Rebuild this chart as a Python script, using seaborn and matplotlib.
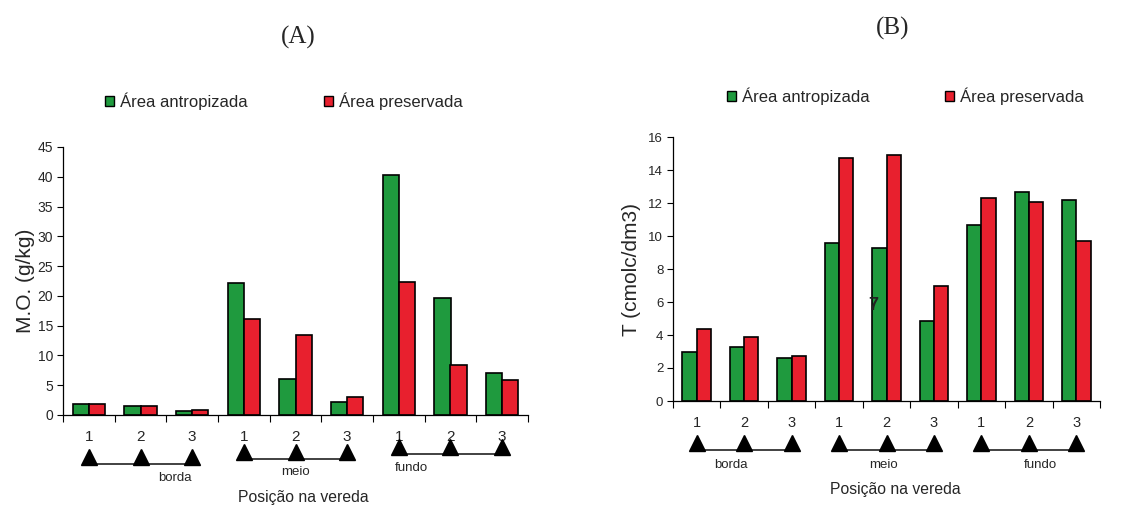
import numpy as np
import pandas as pd
import matplotlib
matplotlib.use("Agg")
import matplotlib.pyplot as plt
import matplotlib.transforms as mtransforms
from matplotlib.patches import Patch
import seaborn as sns

# ---------------- data ----------------
positions = ["borda 1", "borda 2", "borda 3",
             "meio 1", "meio 2", "meio 3",
             "fundo 1", "fundo 2", "fundo 3"]
tick_labels = ["1", "2", "3", "1", "2", "3", "1", "2", "3"]
groups = ["borda", "meio", "fundo"]
series_names = ["Área antropizada", "Área preservada"]

mo_antropizada = [1.9, 1.5, 0.7, 22.1, 6.1, 2.1, 40.3, 19.6, 7.0]
mo_preservada = [1.9, 1.5, 0.9, 16.1, 13.4, 3.1, 22.4, 8.4, 5.9]

t_antropizada = [3.0, 3.25, 2.63, 9.6, 9.27, 4.84, 10.65, 12.65, 12.17]
t_preservada = [4.35, 3.85, 2.73, 14.7, 14.9, 6.94, 12.3, 12.08, 9.7]

# ---------------- style ----------------
GREEN = "#1f9a3e"
RED = "#e8202e"
sns.set_theme(style="white")
plt.rcParams["font.family"] = ["Liberation Sans", "DejaVu Sans"]

W, H = 1137, 508
fig = plt.figure(figsize=(W / 100, H / 100), dpi=100)


def make_df(a, p):
    return pd.DataFrame({
        "pos": positions * 2,
        "val": list(a) + list(p),
        "area": [series_names[0]] * len(positions) + [series_names[1]] * len(positions),
    })


def fy(px):
    return 1 - px / H


def panel(rect, a, p, ymax, ystep, width, ylabel, tick_fs, tick_pad,
          tri_y, line_y, grp_y, grp_x, xlab_coords, ylab_pad):
    ax = fig.add_axes(rect)
    df = make_df(a, p)
    sns.barplot(data=df, x="pos", y="val", hue="area", order=positions,
                hue_order=series_names, palette=[GREEN, RED], width=width,
                edgecolor="black", linewidth=1.2, saturation=1, ax=ax,
                legend=False, errorbar=None)
    ax.set_xlim(-0.5, len(positions) - 0.5)
    ax.set_ylim(0, ymax)
    ax.set_yticks(np.arange(0, ymax + 0.01, ystep))
    ax.tick_params(axis="y", labelsize=tick_fs, length=4, width=0.8,
                   color="black", left=True, pad=3)
    # major x ticks at category boundaries, labels on minor ticks at centres
    ax.set_xticks(np.arange(-0.5, len(positions), 1.0))
    ax.set_xticklabels([])
    ax.set_xticks(np.arange(len(positions)), minor=True)
    ax.set_xticklabels(tick_labels, minor=True)
    ax.tick_params(axis="x", which="major", length=5, width=0.8,
                   color="black", bottom=True, direction="out")
    ax.tick_params(axis="x", which="minor", length=0, labelsize=tick_fs + 1,
                   pad=tick_pad, bottom=True)
    for s in ["top", "right"]:
        ax.spines[s].set_visible(False)
    for s in ["left", "bottom"]:
        ax.spines[s].set_color("black")
        ax.spines[s].set_linewidth(0.9)
    ax.set_ylabel(ylabel, fontsize=15, labelpad=ylab_pad)
    ax.set_xlabel("Posição na vereda", fontsize=11.3)
    ax.xaxis.set_label_coords(*xlab_coords)

    tr = mtransforms.blended_transform_factory(ax.transData, fig.transFigure)
    for g in range(3):
        xs = np.arange(3 * g, 3 * g + 3)
        ax.plot([xs[0], xs[-1]], [fy(line_y[g])] * 2, color="#333333",
                lw=1.3, transform=tr, clip_on=False)
        ax.plot(xs, [fy(tri_y[g])] * 3, linestyle="none", marker="^",
                markersize=11, color="black", transform=tr, clip_on=False)
        ax.text(grp_x[g], fy(grp_y[g]), groups[g], fontsize=9.5,
                ha="center", va="center", transform=tr)
    return ax


axA = panel([63 / W, fy(415), 465 / W, 268 / H],
            mo_antropizada, mo_preservada, 45, 5, 0.62, "M.O. (g/kg)",
            10, 11,
            tri_y=[457, 452, 447], line_y=[464, 459, 454],
            grp_y=[478, 472, 468], grp_x=[1.67, 3.99, 6.25],
            xlab_coords=(0.516, -0.28), ylab_pad=2)

axB = panel([673 / W, fy(401), 427 / W, 264 / H],
            t_antropizada, t_preservada, 16, 2, 0.6, "T (cmolc/dm3)",
            9.5, 11,
            tri_y=[443, 443, 443], line_y=[450, 450, 450],
            grp_y=[465, 465, 465], grp_x=[0.72, 3.93, 7.24],
            xlab_coords=(0.52, -0.305), ylab_pad=5)

# stray mark visible in the scanned panel B
fig.text(873 / W, fy(305), "7", fontsize=13, ha="center", va="center",
         color="#222222", fontweight="bold")

# titles
fig.text(298 / W, fy(37), "(A)", fontsize=18, ha="center", va="center",
         family=["Liberation Serif", "DejaVu Serif"])
fig.text(893 / W, fy(28), "(B)", fontsize=18, ha="center", va="center",
         family=["Liberation Serif", "DejaVu Serif"])

# legends
handles = [Patch(facecolor=GREEN, edgecolor="black", linewidth=1),
           Patch(facecolor=RED, edgecolor="black", linewidth=1)]
for anchor, spacing in [((105 / W, fy(101)), 4.6), ((727 / W, fy(96)), 4.5)]:
    fig.legend(handles, series_names, loc="center left", bbox_to_anchor=anchor,
               ncol=2, frameon=False, fontsize=12, handlelength=0.55,
               handleheight=0.55, handletextpad=0.35, columnspacing=spacing,
               borderpad=0, borderaxespad=0)

fig.savefig("out.png", dpi=100)
